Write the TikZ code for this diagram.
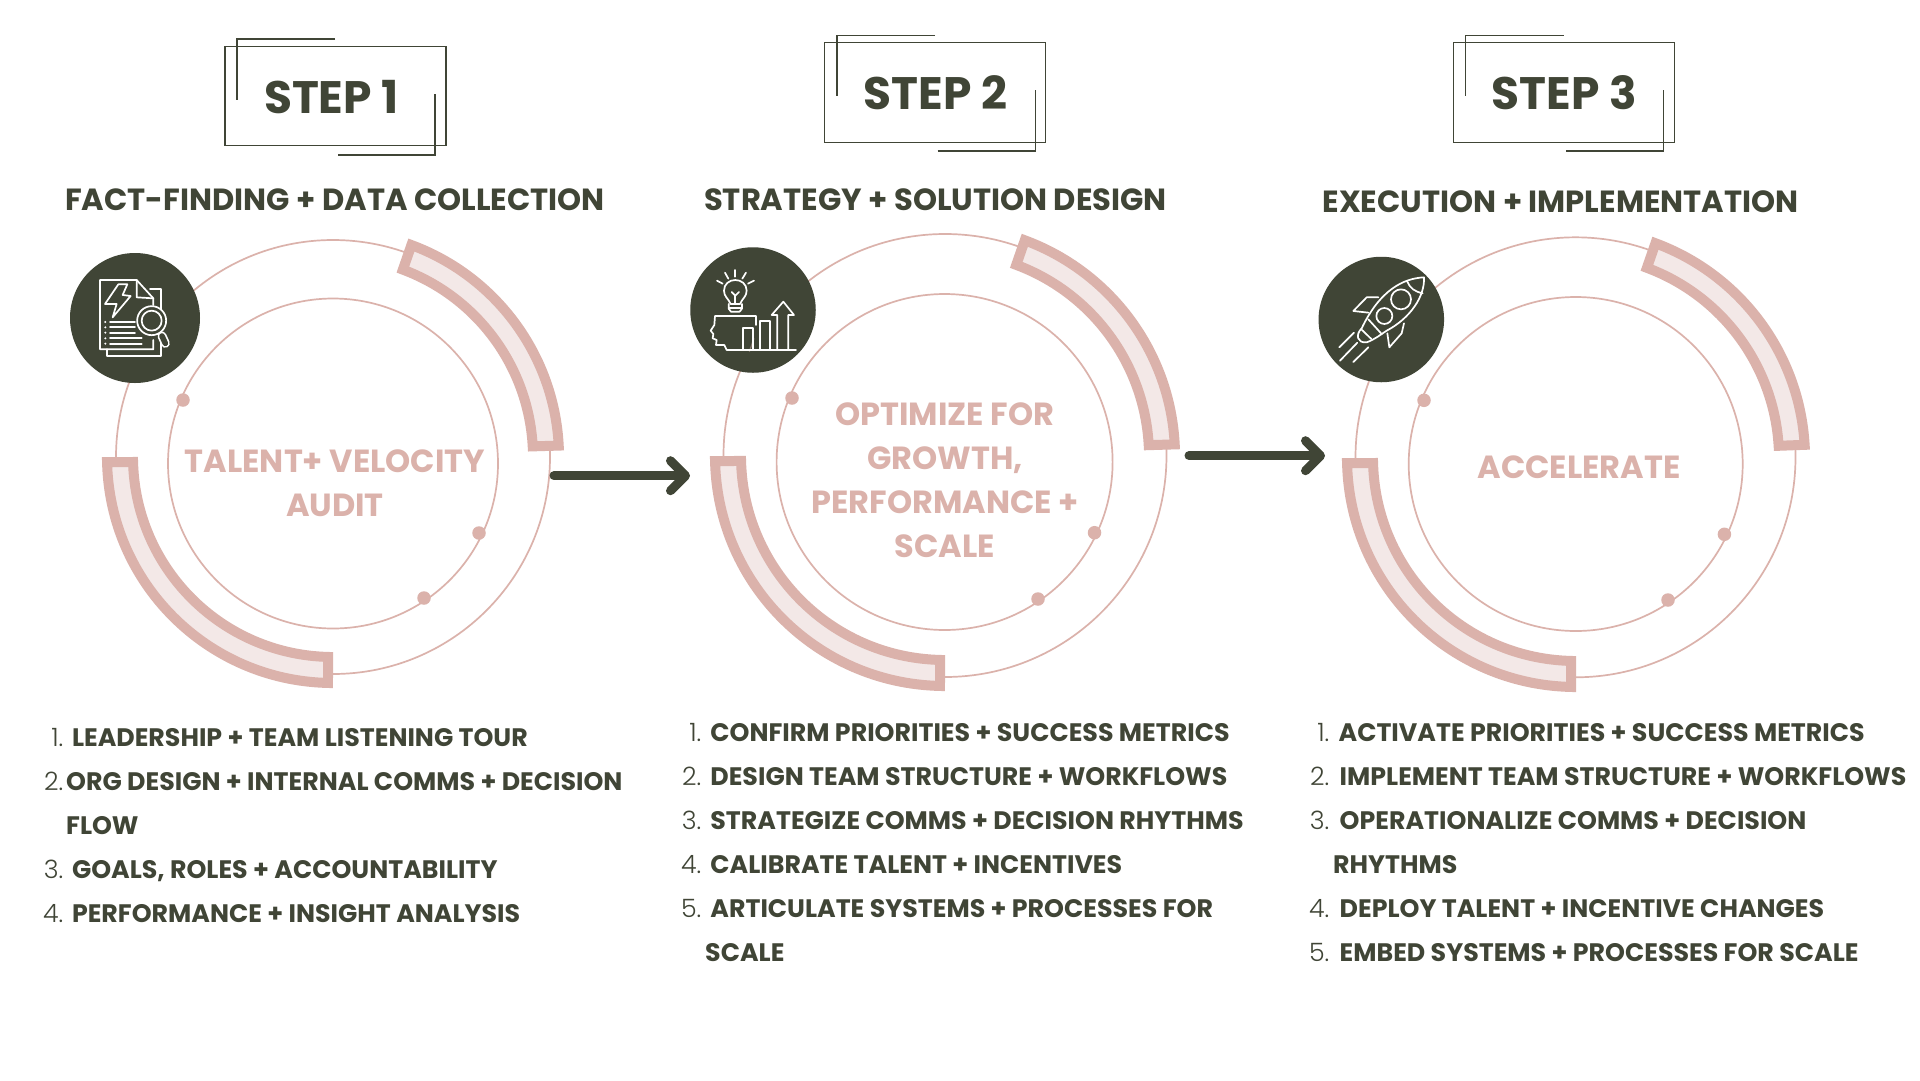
\documentclass[tikz,border=0pt]{standalone}
\usepackage{fontspec}
\setmainfont{Poppins}
\newfontfamily\lightf{Poppins Light}
\usetikzlibrary{arrows.meta}
\definecolor{olive}{HTML}{404536}
\definecolor{rose}{HTML}{DBB2AB}
\definecolor{pale}{HTML}{F3E8E7}
\tikzset{
  stepbox/.style={draw=olive,line width=1.2pt,minimum width=#1,minimum height=99.5pt,inner sep=0pt,rectangle},
  frameline/.style={draw=olive,line width=1.2pt},
  steplabel/.style={font=\bfseries\fontsize{45.5}{54}\selectfont,text=olive,inner sep=0pt,anchor=base},
  subhead/.style={font=\bfseries\fontsize{30.6}{36}\selectfont,text=olive,inner sep=0pt,anchor=base},
  centertext/.style={font=\bfseries\fontsize{32}{36}\selectfont,text=rose,inner sep=0pt,anchor=base},
  itemtext/.style={font=\bfseries\fontsize{25.3}{30}\selectfont,text=olive,inner sep=0pt,anchor=base west},
  itemnum/.style={font=\lightf\fontsize{25.3}{30}\selectfont,text=olive,inner sep=0pt,anchor=base east},
  ring/.style={draw=rose,line width=1.7pt},
  band/.style={draw=rose,fill=pale,line width=10pt,miter limit=10,line join=miter},
  dot/.style={circle,fill=rose,inner sep=0pt,minimum size=13.5pt},
  badge/.style={circle,fill=olive,inner sep=0pt,minimum size=#1},
  glyph/.style={draw=white,line width=1.7pt,line cap=round,line join=round},
  flow/.style={draw=olive,line width=9pt,line cap=round,-{Straight Barb[length=15pt,width=30pt,line width=9pt,round]}},
}
% centre x, centre y, outer radius, inner radius,
% outer start, outer end, inner start, inner end (angles)
\newcommand{\bandarc}[8]{%
  \draw[band] (#1,#2) ++(#5:#3pt) arc[start angle=#5,end angle=#6,radius=#3pt]
    -- ([shift={(#8:#4pt)}]#1,#2) arc[start angle=#8,end angle=#7,radius=#4pt] -- cycle;}
% name, number, right edge of number, left edge of text, baseline, text
\newcommand{\listitem}[6]{%
  \node[itemnum] (#1n) at (#3,#5) {#2};
  \node[itemtext] (#1) at (#4,#5) {#6};}
\begin{document}
\begin{tikzpicture}[x=1pt,y=-1pt]
\useasboundingbox (0,0) rectangle (1920,1080);
\fill[white] (0,0) rectangle (1920,1080);

% ---- headers
\node[stepbox=221pt] (box1) at (335.5,96) {};
\coordinate (f1a) at (335,39); \coordinate (f1b) at (237,39); \coordinate (f1c) at (237,100);
\coordinate (f1d) at (338,155); \coordinate (f1e) at (435,155); \coordinate (f1f) at (435,94);
\draw[frameline] (f1a) -- (f1b) -- (f1c);
\draw[frameline] (f1d) -- (f1e) -- (f1f);
\node[steplabel] (lab1) at (331.4,113) {STEP 1};
\node[subhead] (sub1) at (335,210) {FACT-FINDING + DATA COLLECTION};

\node[stepbox=221pt] (box2) at (935.2,92.5) {};
\coordinate (f2a) at (935,35.7); \coordinate (f2b) at (837,35.7); \coordinate (f2c) at (837,96.3);
\coordinate (f2d) at (937.7,151); \coordinate (f2e) at (1035.3,151); \coordinate (f2f) at (1035.3,90);
\draw[frameline] (f2a) -- (f2b) -- (f2c);
\draw[frameline] (f2d) -- (f2e) -- (f2f);
\node[steplabel] (lab2) at (935.3,109.3) {STEP 2};
\node[subhead] (sub2) at (935.5,210) {STRATEGY + SOLUTION DESIGN};

\node[stepbox=221pt] (box3) at (1563.7,92.5) {};
\coordinate (f3a) at (1563.5,35.7); \coordinate (f3b) at (1465.5,35.7); \coordinate (f3c) at (1465.5,96.3);
\coordinate (f3d) at (1566.2,151); \coordinate (f3e) at (1663.8,151); \coordinate (f3f) at (1663.8,90);
\draw[frameline] (f3a) -- (f3b) -- (f3c);
\draw[frameline] (f3d) -- (f3e) -- (f3f);
\node[steplabel] (lab3) at (1564.3,109.3) {STEP 3};
\node[subhead] (sub3) at (1560.5,212) {EXECUTION + IMPLEMENTATION};

% ---- step 1 rings
\draw[ring] (333,457) circle[radius=217pt];
\draw[ring] (333,463.5) circle[radius=165pt];
\bandarc{333}{457}{226}{200}{69.7}{2.9}{69.55}{3.05}
\bandarc{333}{457}{226}{200}{181.27}{268.73}{181.43}{268.57}
\node[dot] (d11) at (183,400) {};
\node[dot] (d12) at (479,533) {};
\node[dot] (d13) at (424,598) {};
\node[badge=130pt] (ic1) at (135,318) {};
\node[centertext] (t11) at (335,472) {TALENT+ VELOCITY};
\node[centertext] (t12) at (335,516) {AUDIT};

% ---- step 2 rings
\draw[ring] (945,455.5) circle[radius=221.5pt];
\draw[ring] (944.6,462) circle[radius=168pt];
\bandarc{945}{456}{230}{204}{69.7}{2.9}{69.55}{3.05}
\bandarc{945}{456}{230}{204}{181.25}{268.75}{181.4}{268.6}
\node[dot] (d21) at (792,398) {};
\node[dot] (d22) at (1094.5,532.7) {};
\node[dot] (d23) at (1038,599) {};
\node[badge=125.5pt] (ic2) at (753,310) {};
\node[centertext] (t21) at (945,425) {OPTIMIZE FOR};
\node[centertext] (t22) at (945,469) {GROWTH,};
\node[centertext] (t23) at (945,513.5) {PERFORMANCE +};
\node[centertext] (t24) at (945,557.5) {SCALE};

% ---- step 3 rings
\draw[ring] (1575.5,457.3) circle[radius=220pt];
\draw[ring] (1575.7,464) circle[radius=167pt];
\bandarc{1576}{458}{229}{203}{69.7}{3.3}{69.55}{3.45}
\bandarc{1576}{458}{229}{203}{181.25}{268.75}{181.41}{268.59}
\node[dot] (d31) at (1424,400.3) {};
\node[dot] (d32) at (1724.4,534.3) {};
\node[dot] (d33) at (1668,600) {};
\node[badge=125.5pt] (ic3) at (1381.3,319.5) {};
\node[centertext] (t31) at (1579,478.3) {ACCELERATE};

% ---- arrows
\coordinate (a1s) at (554,475.7); \coordinate (a1e) at (690,475.7);
\draw[flow] (a1s) -- (a1e);
\coordinate (a2s) at (1189,455.7); \coordinate (a2e) at (1325,455.7);
\draw[flow] (a2s) -- (a2e);

% ---- icon 1
\begin{scope}[shift={(50,230)},x=.3333pt,y=-.3333pt]
  \draw[glyph] (310,225) -- (310,205) -- (260,150) -- (150,150) -- (150,358) -- (310,358) -- (310,330);
  \draw[glyph] (260,150) -- (260,202) -- (310,205);
  \draw[glyph] (300,178) -- (332,178) -- (332,240);
  \draw[glyph] (332,320) -- (332,378) -- (172,378) -- (172,358);
  \draw[glyph] (205,163) -- (232,163) -- (218,195) -- (242,198) -- (188,262) -- (200,222) -- (165,222) -- cycle;
  \foreach \yy/\xx in {276/255,292/255,308/255,325/275,341/275}{
    \draw[glyph] (180,\yy) -- (\xx,\yy);
    \fill[white] (166,\yy) circle[radius=1.1pt];
  }
  \draw[white,line width=9pt,line cap=round] (336,318) -- (346,340);
  \draw[olive,line width=5.6pt,line cap=round] (336,318) -- (346,340);
  \draw[glyph,fill=olive] (305,272) circle[radius=14.5pt];
  \draw[glyph] (305,272) circle[radius=10pt];
\end{scope}

% ---- icon 2
\begin{scope}[shift={(670,230)},x=.3333pt,y=-.3333pt]
  \draw[rose,line width=1.2pt,opacity=.45] (252,325) -- (238,365);
  \draw[glyph] (182,222) .. controls (175,205) and (162,200) .. (162,182) .. controls (162,162) and (178,150) .. (196,150) .. controls (214,150) and (230,162) .. (230,182) .. controls (230,200) and (217,205) .. (210,222) -- cycle;
  \draw[glyph] (176,222) -- (176,236) -- (183,245) -- (209,245) -- (216,236) -- (216,222);
  \draw[glyph] (176,234) -- (216,234);
  \draw[glyph] (185,186) -- (196,197) -- (207,186);
  \draw[glyph] (196,197) -- (196,220);
  \draw[glyph] (196,120) -- (196,140);
  \draw[glyph] (165,128) -- (175,146);
  \draw[glyph] (228,128) -- (217,146);
  \draw[glyph] (141,152) -- (158,161);
  \draw[glyph] (252,152) -- (234,161);
  \draw[glyph] (258,285) -- (258,258) -- (135,258) -- (133,285) -- (122,302) -- (130,312) -- (128,325) -- (140,330) -- (138,345) -- (163,345) -- (170,360) -- (378,360);
  \draw[glyph] (220,360) -- (220,293) -- (248,293) -- (248,360);
  \draw[glyph] (270,360) -- (270,272) -- (300,272) -- (300,360);
  \draw[glyph] (322,360) -- (322,255) -- (305,255) -- (340,215) -- (372,255) -- (355,255) -- (355,360);
\end{scope}

% ---- icon 3
\begin{scope}[shift={(1300,240)},x=.3333pt,y=-.3333pt]
  \draw[glyph] (372,112) .. controls (310,115) and (240,150) .. (185,265) .. controls (165,285) and (172,310) .. (200,307) .. controls (225,298) and (240,285) .. (260,272) .. controls (330,235) and (375,170) .. (372,112) -- cycle;
  \draw[glyph] (322,125) .. controls (330,145) and (345,155) .. (368,160);
  \draw[glyph] (303,178) circle[radius=10pt];
  \draw[glyph] (253,228) circle[radius=8pt];
  \draw[glyph] (205,238) -- (245,282);
  \draw[glyph] (184,268) -- (214,297);
  \draw[glyph] (235,172) -- (200,172) -- (160,213) -- (205,218);
  \draw[glyph] (312,250) -- (305,280) -- (268,322) -- (262,280);
  \draw[glyph] (162,278) -- (118,322);
  \draw[glyph] (172,308) -- (120,362);
  \draw[glyph] (205,322) -- (160,366);
\end{scope}

% ---- lists
\listitem{l11}{1.}{63.5}{71.8}{746}{LEADERSHIP + TEAM LISTENING TOUR}
\listitem{l12}{2.}{63.5}{66}{790}{ORG DESIGN + INTERNAL COMMS + DECISION}
\node[itemtext] (l12b) at (66,834) {FLOW};
\listitem{l13}{3.}{63.5}{71.8}{878}{GOALS, ROLES + ACCOUNTABILITY}
\listitem{l14}{4.}{63.5}{71.8}{922}{PERFORMANCE + INSIGHT ANALYSIS}

\listitem{l21}{1.}{701.5}{710.2}{741}{CONFIRM PRIORITIES + SUCCESS METRICS}
\listitem{l22}{2.}{701.5}{710.2}{785}{DESIGN TEAM STRUCTURE + WORKFLOWS}
\listitem{l23}{3.}{701.5}{710.2}{829}{STRATEGIZE COMMS + DECISION RHYTHMS}
\listitem{l24}{4.}{701.5}{710.2}{873}{CALIBRATE TALENT + INCENTIVES}
\listitem{l25}{5.}{701.5}{710.2}{917}{ARTICULATE SYSTEMS + PROCESSES FOR}
\node[itemtext] (l25b) at (705,961) {SCALE};

\listitem{l31}{1.}{1329.5}{1338.4}{741}{ACTIVATE PRIORITIES + SUCCESS METRICS}
\listitem{l32}{2.}{1329.5}{1339.5}{785}{IMPLEMENT TEAM STRUCTURE + WORKFLOWS}
\listitem{l33}{3.}{1329.5}{1339.5}{829}{OPERATIONALIZE COMMS + DECISION}
\node[itemtext] (l33b) at (1333,873) {RHYTHMS};
\listitem{l34}{4.}{1329.5}{1339.5}{917}{DEPLOY TALENT + INCENTIVE CHANGES}
\listitem{l35}{5.}{1329.5}{1339.5}{961}{EMBED SYSTEMS + PROCESSES FOR SCALE}
\end{tikzpicture}
\end{document}
